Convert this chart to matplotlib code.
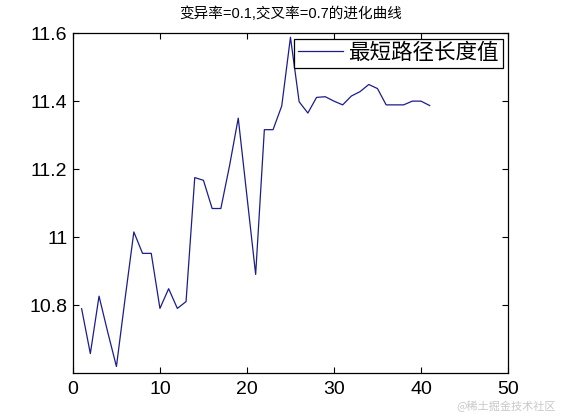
import numpy as np
import matplotlib
matplotlib.use('Agg')
import matplotlib.pyplot as plt

plt.rcParams['font.family'] = ['Liberation Sans', 'Noto Sans CJK SC', 'DejaVu Sans']

# данные: номер поколения и лучшая длина пути
generations = np.arange(1, 42)
best_length = [10.789, 10.657, 10.826, 10.72, 10.619, 10.82, 11.015, 10.952, 10.952, 10.79,
               10.848, 10.79, 10.81, 11.175, 11.167, 11.084, 11.084, 11.21, 11.35, 11.12,
               10.89, 11.316, 11.316, 11.386, 11.588, 11.398, 11.365, 11.411, 11.413, 11.40,
               11.389, 11.415, 11.428, 11.449, 11.437, 11.389, 11.389, 11.389, 11.40, 11.40,
               11.387]

title = '变异率=0.1,交叉率=0.7的进化曲线'
series_label = '最短路径长度值'
xticks = [0, 10, 20, 30, 40, 50]
yticks = [10.8, 11.0, 11.2, 11.4, 11.6]
ytick_labels = ['10.8', '11', '11.2', '11.4', '11.6']

fig = plt.figure(figsize=(5.61, 4.2), dpi=100)
ax = fig.add_axes([0.130, 0.112, 0.7755, 0.809])

ax.plot(generations, best_length, color='#1c1c8c', linewidth=0.9, label=series_label)

ax.set_xlim(0, 50)
ax.set_ylim(10.6, 11.6)
ax.set_xticks(xticks)
ax.set_yticks(yticks)
ax.set_yticklabels(ytick_labels)
ax.tick_params(direction='in', length=4, width=0.8, top=True, right=True, labelsize=14)
ax.tick_params(axis='y', pad=4)
ax.tick_params(axis='x', pad=6)
for s in ax.spines.values():
    s.set_linewidth(0.9)

ax.set_title(title, fontsize=10.5, pad=11)

leg = ax.legend(loc='upper right', fontsize=15.5, handlelength=2.1, borderaxespad=0.25,
                fancybox=False, framealpha=1, edgecolor='black',
                borderpad=0.2, handletextpad=0.2)
leg.get_frame().set_linewidth(0.9)

fig.text(0.99, 0.02, '@稀土掘金技术社区', ha='right', va='bottom', fontsize=8,
         color='#c8c8c8', family=['Noto Sans CJK SC'])

fig.savefig('out.png', dpi=100)
